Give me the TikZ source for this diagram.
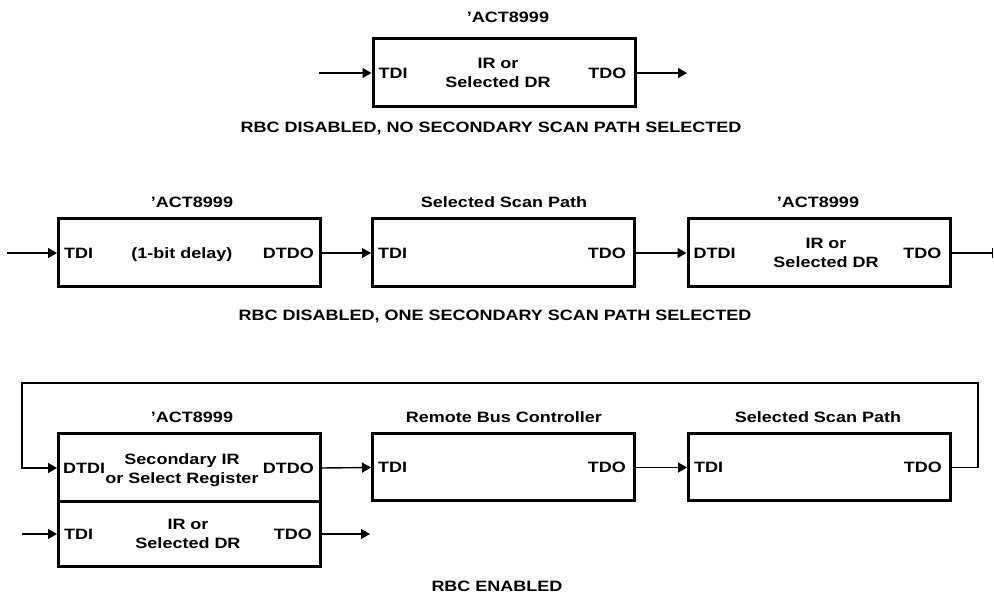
\documentclass[tikz,border=0pt]{standalone}
\usepackage{fontspec}
\setmainfont[FakeStretch=1.2]{Liberation Sans}
\usetikzlibrary{arrows.meta}
\newcommand{\sq}{{\char39}}
\begin{document}
\begin{tikzpicture}[x=1pt,y=-1pt,
  box/.style={draw,line width=3pt,minimum width=262pt,inner sep=0pt},
  conn/.style={line width=1.4pt,-{Triangle[length=9pt,width=10pt]}},
  lbl/.style={font=\fontsize{15}{19}\selectfont\bfseries,inner sep=0pt,align=center},
  captxt/.style={font=\fontsize{15}{19}\selectfont\bfseries,inner sep=0pt}]
\useasboundingbox (0,0) rectangle (994,593);
% ---------- row 1
\node[box,minimum height=68pt] (a1) at (504,73) {};
\node[lbl] (a1t) at (508,17) {\sq ACT8999};
\node[lbl,anchor=west] (a1i) at ([xshift=7pt]a1.west) {TDI};
\node[lbl,anchor=east] (a1o) at ([xshift=-10pt]a1.east) {TDO};
\node[lbl] (a1c) at (498,73) {IR or\\Selected DR};
\coordinate (in1) at (319,73);
\coordinate (out1) at (687,73);
\draw[conn] (in1) -- (a1.west);
\draw[conn] (a1.east) -- (out1);
\node[captxt] (cap1) at (491,128) {RBC DISABLED, NO SECONDARY SCAN PATH SELECTED};
% ---------- row 2
\node[box,minimum height=68pt] (b1) at (189.5,253) {};
\node[box,minimum height=68pt] (b2) at (503.5,253) {};
\node[box,minimum height=68pt] (b3) at (819,253) {};
\node[lbl] (b1t) at (192,202) {\sq ACT8999};
\node[lbl] (b2t) at (504,202) {Selected Scan Path};
\node[lbl] (b3t) at (818,202) {\sq ACT8999};
\node[lbl,anchor=west] (b1i) at ([xshift=7pt]b1.west) {TDI};
\node[lbl] (b1c) at (182,255) {(1-bit delay)};
\node[lbl,anchor=east] (b1o) at ([xshift=-8pt]b1.east) {DTDO};
\node[lbl,anchor=west] (b2i) at ([xshift=7pt]b2.west) {TDI};
\node[lbl,anchor=east] (b2o) at ([xshift=-10pt]b2.east) {TDO};
\node[lbl,anchor=west] (b3i) at ([xshift=7pt]b3.west) {DTDI};
\node[lbl] (b3c) at (826,253) {IR or\\Selected DR};
\node[lbl,anchor=east] (b3o) at ([xshift=-10pt]b3.east) {TDO};
\coordinate (in2) at (7,253);
\coordinate (out2) at (993,253);
\draw[conn] (in2) -- (b1.west);
\draw[conn] (b1.east) -- (b2.west);
\draw[conn] (b2.east) -- (b3.west);
\draw[line width=1.4pt,-{Bar[width=10pt]}] (b3.east) -- (out2);
\node[captxt] (cap2) at (495,316) {RBC DISABLED, ONE SECONDARY SCAN PATH SELECTED};
% ---------- row 3
\node[box,minimum height=68pt] (c1) at (189.5,468) {};
\node[box,minimum height=64pt] (c0) at (189.5,534) {};
\node[box,minimum height=67pt] (c2) at (503.5,467.5) {};
\node[box,minimum height=67pt] (c3) at (819.5,467.5) {};
\node[lbl] (c1t) at (192,417) {\sq ACT8999};
\node[lbl] (c2t) at (504,417) {Remote Bus Controller};
\node[lbl] (c3t) at (818,417) {Selected Scan Path};
\node[lbl,anchor=west] (c1i) at ([xshift=6pt]c1.west) {DTDI};
\node[lbl] (c1c) at (182,470) {Secondary IR\\or Select Register};
\node[lbl,anchor=east] (c1o) at ([xshift=-8pt]c1.east) {DTDO};
\node[lbl,anchor=west] (c0i) at ([xshift=7pt]c0.west) {TDI};
\node[lbl] (c0c) at (188,534) {IR or\\Selected DR};
\node[lbl,anchor=east] (c0o) at ([xshift=-10pt]c0.east) {TDO};
\node[lbl,anchor=west] (c2i) at ([xshift=7pt]c2.west) {TDI};
\node[lbl,anchor=east] (c2o) at ([xshift=-10pt]c2.east) {TDO};
\node[lbl,anchor=west] (c3i) at ([xshift=7pt]c3.west) {TDI};
\node[lbl,anchor=east] (c3o) at ([xshift=-10pt]c3.east) {TDO};
\coordinate (l1) at (978,467.5);
\coordinate (l2) at (978,383);
\coordinate (l3) at (22,383);
\coordinate (l4) at (22,468);
\draw[conn] (c3.east) -- (l1) -- (l2) -- (l3) -- (l4) -- (c1.west);
\draw[conn] (c1.east) -- (c2.west);
\draw[conn] (c2.east) -- (c3.west);
\coordinate (in3) at (22,534);
\coordinate (out3) at (370,534);
\draw[conn] (in3) -- (c0.west);
\draw[conn] (c0.east) -- (out3);
\node[captxt] (cap3) at (497,586) {RBC ENABLED};
\end{tikzpicture}
\end{document}
